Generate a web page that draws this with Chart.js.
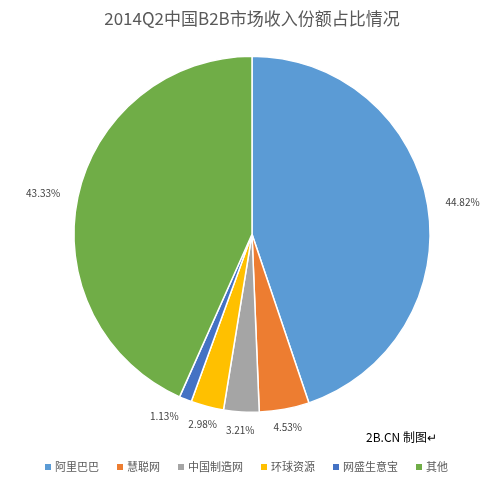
<!DOCTYPE html>
<html><head><meta charset="utf-8">
<script src="https://cdn.jsdelivr.net/npm/chart.js@4/dist/chart.umd.min.js"></script>
<style>body{margin:0;background:#fff}#wrap{width:493px;height:487px}</style>
</head><body><div id="wrap"><canvas id="c"></canvas></div>
<script>
const titleText = '2014Q2中国B2B市场收入份额占比情况';
const categories = ['阿里巴巴', '慧聪网', '中国制造网', '环球资源', '网盛生意宝', '其他'];
const shares = [44.82, 4.53, 3.21, 2.98, 1.13, 43.33];
const colors = ['#5B9BD5', '#ED7D31', '#A5A5A5', '#FFC000', '#4472C4', '#70AD47'];
const font = '"Microsoft YaHei","Noto Sans CJK SC",sans-serif';

const outLabels = {
  id: 'outLabels',
  afterDatasetsDraw(chart) {
    const ctx = chart.ctx;
    ctx.save();
    ctx.font = '10px ' + font;
    ctx.fillStyle = '#404040';
    ctx.textBaseline = 'middle';
    chart.getDatasetMeta(0).data.forEach((arc, i) => {
      const a = (arc.startAngle + arc.endAngle) / 2;
      const r = arc.outerRadius + 18;
      const x = arc.x + Math.cos(a) * r, y = arc.y + Math.sin(a) * r;
      ctx.textAlign = Math.cos(a) > 0.3 ? 'left' : (Math.cos(a) < -0.3 ? 'right' : 'center');
      ctx.fillText(shares[i].toFixed(2) + '%', x, y);
    });
    // legend
    ctx.font = '11px ' + font;
    ctx.textAlign = 'left';
    const widths = categories.map(c => ctx.measureText(c).width + 10);
    const gap = 18;
    const total = widths.reduce((s, w) => s + w, 0) + gap * (categories.length - 1);
    let lx = (chart.width - total) / 2;
    categories.forEach((c, i) => {
      ctx.fillStyle = colors[i];
      ctx.fillRect(lx, 464, 6, 6);
      ctx.fillStyle = '#595959';
      ctx.fillText(c, lx + 10, 467);
      lx += widths[i] + gap;
    });
    ctx.font = '12px ' + font;
    ctx.fillStyle = '#000';
    ctx.fillText('2B.CN 制图↵', 366, 437);
    ctx.restore();
  }
};

new Chart(document.getElementById('c'), {
  type: 'pie',
  data: {
    labels: categories,
    datasets: [{ data: shares, backgroundColor: colors, borderColor: '#fff', borderWidth: 1.5 }]
  },
  options: {
    responsive: true, maintainAspectRatio: false, animation: false,
    layout: { padding: { top: 0, bottom: 74, left: 73, right: 62 } },
    plugins: {
      title: { display: true, text: titleText, color: '#595959', font: { size: 17, family: font, weight: 'normal' }, padding: { top: 8, bottom: 27 } },
      legend: { display: false },
      tooltip: { enabled: false }
    }
  },
  plugins: [outLabels]
});
</script></body></html>
